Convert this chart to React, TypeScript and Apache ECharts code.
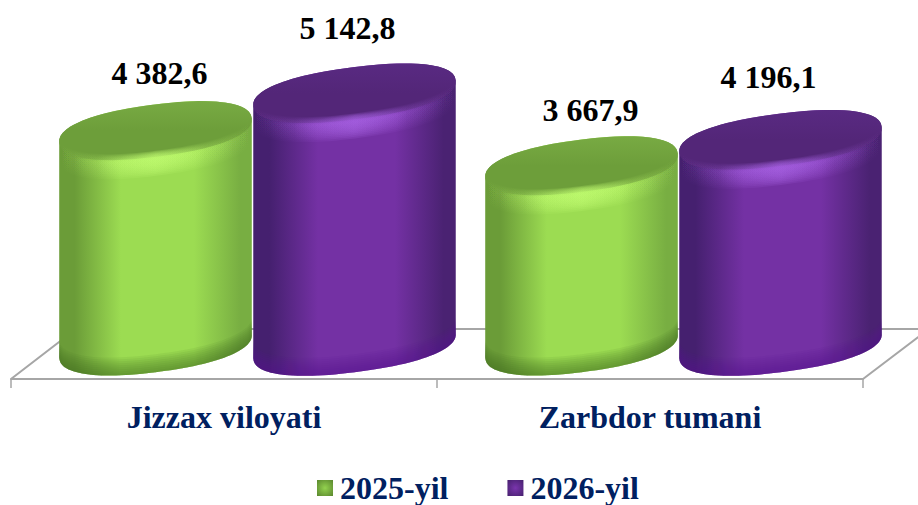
import React, { useEffect, useRef } from "react";
import * as echarts from "echarts";

const categories = ["Jizzax viloyati", "Zarbdor tumani"];
const seriesNames = ["2025-yil", "2026-yil"];
const values2025 = [4382.6, 3667.9];
const values2026 = [5142.8, 4196.1];

const TILT = (7.4 * Math.PI) / 180;
const MINOR = 26;
const FULL = 0.88;
const SERIF = '"Liberation Serif", "Times New Roman", serif';
const NAVY = "#002060";

const skins = [
  {
    dx: -68.5, major: 97,
    edgeL: "#6b9c38", mid: "#9cdc52", edgeR: "#78ae42",
    top: "#6d9e3a", topEdge: "#78aa43", glow: "190,250,110", foot: "72,112,32",
    label: [[4, -57.6], [9, -56]],
  },
  {
    dx: 130.5, major: 102,
    edgeL: "#45206f", mid: "#7431a4", edgeR: "#4a2272",
    top: "#532678", topEdge: "#592a82", glow: "165,95,225", foot: "84,20,140",
    label: [[-7, -65], [-12, -63]],
  },
];

const fmt = (v: number) => {
  const [i, d] = v.toFixed(1).split(".");
  return i.replace(/\B(?=(\d{3})+$)/g, " ") + "," + d;
};

const soft = (c: number) => Math.sign(c) * Math.pow(Math.abs(c), FULL);

const arc = (cx: number, cy: number, a: number, from: number, to: number, dy = 0) => {
  const pts: number[][] = [];
  const n = 56;
  for (let k = 0; k <= n; k++) {
    const t = from + ((to - from) * k) / n;
    const u = a * soft(Math.cos(t));
    const v = MINOR * soft(Math.sin(t));
    pts.push([
      cx + u * Math.cos(TILT) + v * Math.sin(TILT),
      cy - u * Math.sin(TILT) + v * Math.cos(TILT) + dy,
    ]);
  }
  return pts;
};

const sweep = (rgb: string, alpha: number) =>
  new echarts.graphic.LinearGradient(0, 0, 1, 0, [
    { offset: 0, color: `rgba(${rgb},0)` },
    { offset: 0.2, color: `rgba(${rgb},${alpha * 0.2})` },
    { offset: 0.5, color: `rgba(${rgb},${alpha})` },
    { offset: 0.76, color: `rgba(${rgb},${alpha * 0.25})` },
    { offset: 1, color: `rgba(${rgb},0)` },
  ]);

const tile = (inner: string, outer: string) =>
  new echarts.graphic.RadialGradient(0.5, 0.5, 0.65, [
    { offset: 0, color: inner },
    { offset: 1, color: outer },
  ]);

const makeRender = (si: number) => (params: any, api: any) => {
  const s = skins[si];
  const idx = api.value(0);
  const val = api.value(1);
  const base = api.coord([idx, 0]);
  const head = api.coord([idx, val]);
  const cx = base[0] + s.dx;
  const yb = base[1];
  const yt = head[1];
  const a = s.major;
  const t0 = Math.atan2(MINOR * Math.sin(TILT), a * Math.cos(TILT)) * 0.6;
  const P = Math.PI;
  const body = [...arc(cx, yb, a, t0, t0 + P), ...arc(cx, yt, a, t0 + P, t0 + 2 * P)];
  const bodyFill = new echarts.graphic.LinearGradient(0, 0, 1, 0, [
    { offset: 0, color: s.edgeL },
    { offset: 0.08, color: s.edgeL },
    { offset: 0.32, color: s.mid },
    { offset: 0.7, color: s.mid },
    { offset: 0.94, color: s.edgeR },
    { offset: 1, color: s.edgeR },
  ]);
  const children: any[] = [
    { type: "polygon", shape: { points: body }, style: { fill: bodyFill } },
  ];
  // soft darkening that hugs the foot of the barrel
  for (let k = 1; k <= 9; k++) {
    children.push({
      type: "polygon",
      shape: { points: [...arc(cx, yb, a, t0, t0 + P), ...arc(cx, yb, a, t0 + P, t0, -k * 2)] },
      style: { fill: `rgba(${s.foot},0.09)` },
    });
  }
  children.push({
    type: "polygon",
    shape: { points: arc(cx, yt, a, 0, 2 * P) },
    style: {
      fill: new echarts.graphic.LinearGradient(0, 0, 0, 1, [
        { offset: 0, color: s.topEdge },
        { offset: 0.5, color: s.top },
        { offset: 1, color: s.top },
      ]),
    },
  });
  // soft highlight that hugs the front rim of the top
  for (let k = 1; k <= 10; k++) {
    children.push({
      type: "polygon",
      shape: { points: [...arc(cx, yt, a, t0, t0 + P, 2 + k * 1.7), ...arc(cx, yt, a, t0 + P, t0, 2 - k * 0.8)] },
      style: { fill: sweep(s.glow, 0.2) },
    });
  }
  const [nx, ny] = s.label[idx];
  children.push({
    type: "text",
    style: {
      text: fmt(val),
      x: cx + nx,
      y: yt + ny,
      fill: "#000000",
      font: `bold 32px ${SERIF}`,
      textAlign: "center",
      textVerticalAlign: "middle",
    },
  });
  return { type: "group", children };
};

export default function App() {
  const ref = useRef<HTMLDivElement>(null);
  useEffect(() => {
    const chart = echarts.init(ref.current!, undefined, { renderer: "svg" });
    const edge = { stroke: "#a6a6a6", lineWidth: 2, fill: "none" };
    chart.setOption({
      animation: false,
      backgroundColor: "#ffffff",
      grid: { left: 11, width: 852, top: 2, height: 344 },
      xAxis: {
        type: "category",
        data: categories,
        offset: 33,
        axisLine: { show: true, onZero: false, lineStyle: { color: "#a6a6a6", width: 2 } },
        axisTick: { show: true, length: 9, lineStyle: { color: "#a6a6a6", width: 1.5 } },
        axisLabel: {
          margin: 20,
          color: NAVY,
          fontFamily: SERIF,
          fontWeight: "bold",
          fontSize: 32,
          lineHeight: 36,
        },
      },
      yAxis: { type: "value", min: 0, max: 7000, show: false, splitLine: { show: false } },
      legend: {
        left: 317,
        top: 471,
        padding: 0,
        itemWidth: 16,
        itemHeight: 16,
        itemGap: 59,
        icon: "rect",
        textStyle: { color: NAVY, fontFamily: SERIF, fontWeight: "bold", fontSize: 32, lineHeight: 34, padding: [0, 0, 0, 2] },
        data: [
          { name: seriesNames[0], itemStyle: { color: tile("#93d24f", "#5e8c30") } },
          { name: seriesNames[1], itemStyle: { color: tile("#7a35ad", "#4a2272") } },
        ],
      },
      graphic: [
        {
          type: "polyline",
          z: 0,
          shape: { points: [[11, 379], [76, 329], [929, 329], [863, 379]] },
          style: edge,
        },
      ],
      series: [values2025, values2026].map((vals, si) => ({
        type: "custom",
        name: seriesNames[si],
        z: 2 + si,
        clip: false,
        itemStyle: { color: si === 0 ? "#78ae42" : "#5f2a8e" },
        encode: { x: 0, y: 1 },
        data: vals.map((v, i) => [i, v]),
        renderItem: makeRender(si),
      })),
    });
    return () => chart.dispose();
  }, []);
  return <div ref={ref} style={{ position: "fixed", left: 0, top: 0, width: 918, height: 505 }} />;
}
